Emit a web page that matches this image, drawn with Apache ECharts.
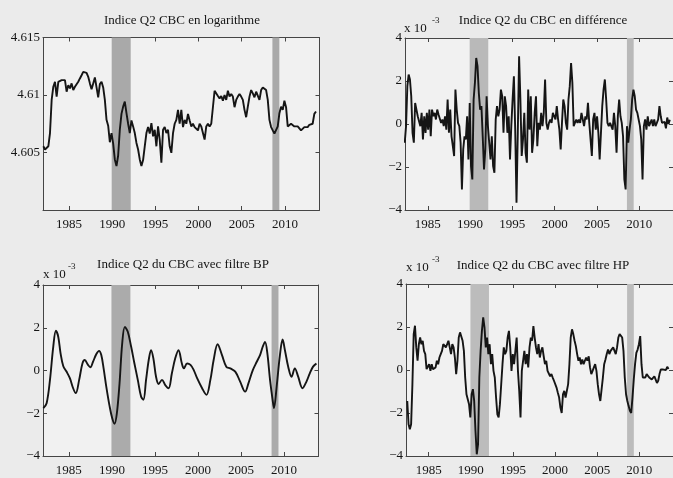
<!DOCTYPE html>
<html><head><meta charset="utf-8">
<script src="https://cdn.jsdelivr.net/npm/echarts@6/dist/echarts.min.js"></script>
<style>html,body{margin:0;padding:0;background:#ebebeb}#c{width:673px;height:478px}</style>
</head><body><div id="c"></div>
<script>
// ---------- data ----------
const xTicks = [1985, 1990, 1995, 2000, 2005, 2010];
const logTicks = [4.605, 4.61, 4.615];
const e3Ticks = [-4, -2, 0, 2, 4];
const recessions = [[1989.95, 1992.15], [2008.55, 2009.35]];
const panelTitles = [
  'Indice Q2 CBC en logarithme',
  'Indice Q2 du CBC en différence',
  'Indice Q2 du CBC avec filtre BP',
  'Indice Q2 du CBC avec filtre HP'
];

// log index (start 1982.04, every ~0.1924 yr)
const logStart = 1982.04, logStep = 0.1924;
const logVals = [
4.60554,4.60526,4.60511,4.60554,4.60669,4.60957,4.61072,4.61115,4.60986,4.61115,
4.61129,4.61129,4.61115,4.61129,4.61029,4.61086,4.61057,4.61101,4.61043,4.61072,
4.61086,4.61115,4.61144,4.61172,4.61201,4.61215,4.61193,4.61158,4.61101,4.61049,
4.61101,4.61152,4.61066,4.6098,4.61095,4.61115,4.61066,4.60957,4.60784,4.60733,
4.60589,4.60669,4.60577,4.6044,4.60382,4.60474,4.60698,4.60836,4.60899,4.60942,
4.60842,4.6075,4.60669,4.60779,4.60727,4.60669,4.60583,4.60526,4.6044,4.60382,
4.60434,4.60554,4.60669,4.60721,4.60664,4.60756,4.60641,4.60698,4.60554,4.60727,
4.60612,4.60411,4.60698,4.60721,4.60669,4.60698,4.60554,4.60497,4.60669,4.6075,
4.60784,4.60871,4.6075,4.60871,4.60721,4.60784,4.6075,4.60836,4.60779,4.60727,
4.6075,4.60721,4.60727,4.60692,4.6075,4.60727,4.60721,4.60612,4.60727,4.6075,
4.60727,4.6075,4.60756,4.61037,4.61029,4.60991,4.60971,4.60991,4.60951,4.61,
4.60957,4.61037,4.60986,4.61009,4.60986,4.60894,4.60957,4.60986,4.61009,4.60986,
4.60957,4.60871,4.60807,4.60899,4.60986,4.61043,4.61014,4.6098,4.61029,4.61014,
4.60957,4.61043,4.61066,4.61057,4.61043,4.60957,4.60784,4.60721,4.60692,4.60664,
4.60655,4.60727,4.60842,4.60899,4.60871,4.60951,4.60894,4.60727,4.60721,4.6075,
4.60756,4.60727,4.60741,4.60727,4.60713,4.60692,4.60684,4.60721,4.60721,4.60721,
4.60741,4.6075,4.6075,4.60836,4.60856
];

// first difference, x 10^-3 (start 1982.27, every ~0.1537 yr)
const diffStart = 1982.27, diffStep = 0.1537;
const diffVals = [
-0.87,-0.10,1.76,2.30,2.07,1.29,-0.41,-0.87,0.98,0.67,
0.36,0.44,-0.10,0.52,-0.72,0.36,-0.41,0.52,-0.26,0.67,
-0.57,0.67,0.36,0.52,0.21,0.67,0.44,0.52,0.05,0.21,
-0.10,0.36,-0.26,1.14,-0.41,0.67,-0.57,-1.03,-1.49,1.60,
0.67,0.05,-0.10,-0.87,-3.04,-1.18,-0.57,-0.72,0.36,-1.65,
0.98,-1.96,-2.58,1.14,1.91,3.07,2.69,1.45,0.67,0.83,
-0.57,-2.11,-1.18,1.29,-0.10,-0.87,-1.65,-0.57,-1.96,-2.27,
0.21,0.83,0.36,0.67,1.60,1.29,-0.41,1.29,0.83,-0.41,
0.36,-1.65,-0.10,1.14,2.22,-0.26,-3.66,-0.41,3.15,1.14,
-1.49,-0.72,0.52,-1.34,-1.80,1.60,-0.26,1.29,-1.34,-0.72,
0.52,1.29,-1.03,0.05,-0.26,0.52,-0.10,0.52,2.07,0.05,
-0.26,0.05,0.21,0.05,0.52,0.36,0.21,0.83,0.21,-0.26,
-1.18,0.05,1.14,0.83,0.05,-0.26,1.14,1.76,2.84,1.91,
-0.10,-0.10,0.21,0.05,0.21,0.05,0.52,0.21,-0.10,0.36,
0.21,0.98,0.05,-0.72,-1.49,0.21,0.52,-0.26,0.36,-0.41,
-1.65,-0.41,0.83,1.60,2.07,1.14,0.05,-0.10,0.05,0.05,
-0.26,0.52,-0.10,-1.34,0.36,1.14,0.36,0.05,-0.57,-2.58,
-3.04,-0.10,-0.87,-0.26,0.21,1.14,1.60,1.29,0.67,0.52,
0.21,-0.10,-0.72,-2.58,-0.10,0.21,-0.26,0.36,-0.10,0.05,
0.21,-0.10,0.21,-0.10,0.05,0.21,0.83,0.36,0.05,0.05,
0.10,-0.20,0.30,0.00,0.20
];

// band-pass filtered cycle, x 10^-3
const bpYears = [
1982.04,1982.42,1982.81,1983.19,1983.50,1983.77,1984.04,1984.35,1984.73,1985.12,
1985.50,1985.81,1986.20,1986.58,1986.85,1987.23,1987.50,1987.81,1988.20,1988.51,
1988.77,1989.04,1989.35,1989.74,1990.04,1990.31,1990.58,1990.89,1991.20,1991.51,
1991.85,1992.24,1992.62,1993.01,1993.39,1993.66,1993.97,1994.28,1994.55,1994.82,
1995.13,1995.43,1995.82,1996.20,1996.59,1996.97,1997.36,1997.74,1998.13,1998.36,
1998.74,1999.13,1999.51,1999.90,2000.48,2000.98,2001.44,2001.82,2002.28,2002.79,
2003.29,2003.75,2004.33,2004.90,2005.48,2005.86,2006.37,2006.83,2007.21,2007.52,
2007.79,2008.06,2008.37,2008.67,2008.83,2009.14,2009.52,2009.83,2010.10,2010.48,
2010.87,2011.25,2011.64,2012.14,2012.60,2012.99,2013.37,2013.76
];
const bpVals = [
-1.76,-1.53,-0.44,1.11,1.86,1.58,0.80,0.21,-0.05,-0.36,
-0.83,-1.06,-0.44,0.33,0.49,0.26,0.15,0.41,0.77,0.92,
0.72,0.10,-0.75,-1.68,-2.23,-2.49,-2.00,-0.60,1.27,2.04,
1.81,1.11,0.33,-0.44,-1.22,-1.37,-0.44,0.49,0.95,0.57,
-0.29,-0.63,-0.44,-0.68,-0.83,-0.13,0.57,0.95,0.33,0.10,
0.33,0.26,0.02,-0.36,-0.83,-1.14,-0.44,0.49,1.23,0.72,
0.18,0.10,-0.05,-0.52,-0.99,-0.60,0.02,0.41,0.72,1.11,
1.34,0.80,-0.44,-1.37,-1.76,-0.75,0.72,1.45,0.95,0.18,
-0.29,0.10,-0.29,-0.83,-0.52,-0.13,0.18,0.33
];

// HP filtered cycle, x 10^-3 (start 1982.45, every ~0.1528 yr)
const hpStart = 1982.45, hpStep = 0.1528;
const hpVals = [
-1.44,-2.52,-2.76,-2.52,-0.66,1.67,2.06,1.05,0.43,1.20,
1.51,1.20,1.36,0.89,0.74,0.04,0.12,0.27,-0.04,0.27,
0.04,-0.04,0.12,0.43,0.27,0.58,0.74,0.89,1.20,1.20,
1.05,1.20,1.36,1.05,0.74,1.20,1.05,0.58,-0.19,0.43,
1.51,1.75,1.67,1.36,0.89,-0.35,-1.13,-1.13,-1.59,-2.21,
-1.13,-0.89,-1.44,-2.84,-3.92,-3.46,-0.35,0.89,1.82,2.45,
1.98,1.05,1.51,0.74,1.20,0.27,0.74,-0.04,-0.35,-1.28,
-2.06,-2.21,-1.59,-0.66,0.27,1.05,0.74,0.89,1.51,1.82,
1.05,-0.04,0.74,0.27,0.89,1.51,-0.04,-0.97,-2.21,-0.04,
0.43,0.89,0.27,0.74,0.12,1.05,1.51,1.36,2.04,1.51,
1.05,0.74,1.20,0.58,0.89,1.05,0.64,0.27,0.43,-0.04,
-0.04,-0.29,-0.19,-0.35,-0.50,-0.44,-0.82,-1.06,-1.28,-1.75,
-2.00,-1.13,-0.97,-1.28,-1.22,-0.66,0.27,1.51,1.89,1.67,
1.36,1.11,0.74,0.43,0.58,0.27,0.49,0.27,0.43,0.58,
0.43,0.64,0.12,-0.19,-0.04,0.12,0.27,-0.04,-0.66,-1.13,
-1.44,-1.53,-0.35,0.27,0.49,0.74,0.95,0.74,0.89,0.89,
1.05,1.11,0.74,1.05,1.51,1.67,1.73,1.51,0.89,-0.35,
-1.13,-1.44,-1.68,-1.90,-2.00,-1.28,-0.44,0.27,0.80,0.95,
1.20,1.58,0.27,-0.35,-0.35,-0.35,-0.19,-0.13,-0.35,-0.35,
-0.44,-0.35,-0.29,-0.35,-0.60,-0.50,-0.19,0.02,0.02,0.02,
0.10,0.00,0.15,0.05
];

// ---------- build ----------
function datesFrom(start, step, n) { const d = []; for (let i = 0; i < n; i++) d.push(+(start + i * step).toFixed(4)); return d; }
function pairs(xs, ys) { return ys.map((v, i) => [xs[i], v]); }

const FONT = 'Liberation Serif';
const INK = '#151515';
const FRAME = '#454545';
const grids = [
  { left: 43, top: 37.5, width: 276.5, height: 172.5 },
  { left: 405, top: 38, width: 277, height: 172 },
  { left: 43, top: 285, width: 275.5, height: 171 },
  { left: 406, top: 284, width: 277, height: 172 }
];
const xRanges = [[1982, 2014], [1982.3, 2014], [1982, 2014], [1982.3, 2014]];
const shade = ['#a9a9a9', '#b9b9b9', '#ababab', '#bcbcbc'];

const seriesData = [
  pairs(datesFrom(logStart, logStep, logVals.length), logVals),
  pairs(datesFrom(diffStart, diffStep, diffVals.length), diffVals),
  pairs(bpYears, bpVals),
  pairs(datesFrom(hpStart, hpStep, hpVals.length), hpVals)
];

const minus = v => (v < 0 ? '\u2212' + Math.abs(v) : String(v));

const xAxes = [], yAxes = [], series = [];
grids.forEach((g, i) => {
  const lineCfg = { show: true, onZero: false, lineStyle: { color: FRAME, width: 1 } };
  const tickCfg = { show: true, inside: true, length: 4, lineStyle: { color: FRAME }, customValues: xTicks };
  xAxes.push({
    gridIndex: i, type: 'value', position: 'bottom', min: xRanges[i][0], max: xRanges[i][1],
    axisLine: lineCfg, axisTick: tickCfg, splitLine: { show: false },
    axisLabel: { customValues: xTicks, margin: 8, color: '#151515', fontFamily: FONT, fontSize: 13, formatter: v => String(v) }
  });
  xAxes.push({
    gridIndex: i, type: 'value', position: 'top', min: xRanges[i][0], max: xRanges[i][1],
    axisLine: lineCfg, axisTick: tickCfg, splitLine: { show: false }, axisLabel: { show: false }
  });
  const isLog = i === 0;
  const yTicks = isLog ? logTicks : e3Ticks;
  const yBase = {
    gridIndex: i, type: 'value',
    min: isLog ? 4.6 : -4, max: isLog ? 4.615 : 4,
    axisLine: lineCfg, splitLine: { show: false },
    axisTick: { show: true, inside: true, length: 4, lineStyle: { color: FRAME }, customValues: yTicks }
  };
  yAxes.push(Object.assign({}, yBase, {
    position: 'left',
    axisLabel: { customValues: yTicks, margin: 3, color: '#151515', fontFamily: FONT, fontSize: 13,
      formatter: isLog ? (v => String(v)) : minus }
  }));
  yAxes.push(Object.assign({}, yBase, { position: 'right', axisLabel: { show: false } }));
  series.push({
    type: 'line', xAxisIndex: 2 * i, yAxisIndex: 2 * i, data: seriesData[i],
    showSymbol: false, smooth: i === 2 ? 0.35 : false, clip: true,
    lineStyle: { color: INK, width: 1.9 },
    markArea: {
      silent: true, itemStyle: { color: shade[i], opacity: 1 },
      data: recessions.map(r => [{ xAxis: r[0] }, { xAxis: r[1] }])
    },
    z: 3
  });
});

const tStyle = { fontFamily: FONT, fontSize: 13, fontWeight: 'normal', color: '#151515' };
const supStyle = { fontFamily: FONT, fontSize: 9, fontWeight: 'normal', color: '#151515' };
const titles = [
  { text: panelTitles[0], left: 182, top: 14, textAlign: 'center', padding: 0, textStyle: tStyle },
  { text: panelTitles[1], left: 543, top: 14, textAlign: 'center', padding: 0, textStyle: tStyle },
  { text: panelTitles[2], left: 183, top: 258, textAlign: 'center', padding: 0, textStyle: tStyle },
  { text: panelTitles[3], left: 543, top: 259, textAlign: 'center', padding: 0, textStyle: tStyle },
  { text: 'x 10', left: 404, top: 22, padding: 0, textStyle: tStyle },
  { text: '-3', left: 432, top: 16, padding: 0, textStyle: supStyle },
  { text: 'x 10', left: 43, top: 268, padding: 0, textStyle: tStyle },
  { text: '-3', left: 68, top: 262, padding: 0, textStyle: supStyle },
  { text: 'x 10', left: 406, top: 261, padding: 0, textStyle: tStyle },
  { text: '-3', left: 432, top: 255, padding: 0, textStyle: supStyle }
];

const chart = echarts.init(document.getElementById('c'), null, { renderer: 'canvas' });
chart.setOption({
  backgroundColor: '#ebebeb',
  animation: false,
  title: titles,
  grid: grids.map(g => Object.assign({ show: true, backgroundColor: '#f1f1f1', borderWidth: 0, containLabel: false }, g)),
  xAxis: xAxes,
  yAxis: yAxes,
  series: series
});
</script>
</body></html>
